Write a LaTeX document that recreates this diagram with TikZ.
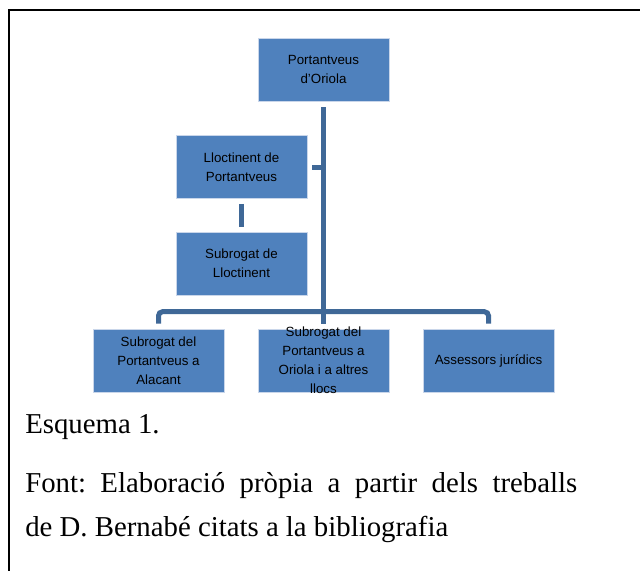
\documentclass[tikz,border=0pt]{standalone}
\usepackage{fontspec}
\setmainfont{Liberation Serif}
\newfontfamily\boxfont{Liberation Sans}
\usetikzlibrary{calc}
\definecolor{boxblue}{HTML}{4F81BD}
\definecolor{boxedge}{HTML}{C9D6EA}
\definecolor{linkblue}{HTML}{3F6897}
\tikzset{
  orgbox/.style={rectangle, fill=boxblue, draw=boxedge, line width=0.4pt,
    minimum width=98.25pt, minimum height=47.25pt, inner sep=0pt},
  lbl/.style={font=\boxfont\fontsize{10}{14.25}\selectfont, text=black,
    align=center, inner sep=0pt},
  link/.style={draw=linkblue, line width=3.75pt},
  caption/.style={anchor=base west, inner sep=0pt,
    font=\fontsize{21.6}{25}\selectfont\frenchspacing}
}
\begin{document}
\begin{tikzpicture}[x=0.75pt,y=-0.75pt]
\useasboundingbox (0,0) rectangle (640,571);
\fill[white] (0,0) rectangle (640,571);
\draw[line width=1.5pt] (9,571) -- (9,10.3) -- (640,10.3);

\node[orgbox, label={[lbl]center:Portantveus\\d’Oriola}] (top) at (323.5,69.5) {};
\node[orgbox, label={[lbl]center:Lloctinent de\\Portantveus}] (lloc) at (241.5,167) {};
\node[orgbox, label={[lbl]center:Subrogat de\\Lloctinent}] (sub) at (241.5,263.5) {};
\node[orgbox, label={[lbl]center:Subrogat del\\Portantveus a\\Alacant}] (b1) at (158.5,360.5) {};
\node[orgbox, label={[lbl]center:Subrogat del\\Portantveus a\\Oriola i a altres\\llocs}] (b2) at (323.5,360.5) {};
\node[orgbox, label={[lbl]center:Assessors jurídics}] (b3) at (488.5,360.5) {};

\coordinate (bar) at ($(b2.north)+(0,-17)$);
\draw[link] ($(top.south)+(0,6)$) -- ($(b2.north)+(0,-5)$);
\draw[link, rounded corners=3pt] ($(b1.north)+(0,-5)$) |- (bar) -| ($(b3.north)+(0,-5)$);
\draw[link] ($(lloc.east)+(5,0)$) -- (lloc.east -| top.south);
\draw[link] ($(lloc.south)+(0,5)$) -- ($(sub.north)+(0,-5)$);

\node[caption] (esq) at (25,433) {Esquema 1.};
\node[caption] (f1) at (25,492) {\makebox[414pt][s]{Font: Elaboració pròpia a partir dels treballs}};
\node[caption] (f2) at (25,536) {de D. Bernabé citats a la bibliografia};
\end{tikzpicture}
\end{document}
